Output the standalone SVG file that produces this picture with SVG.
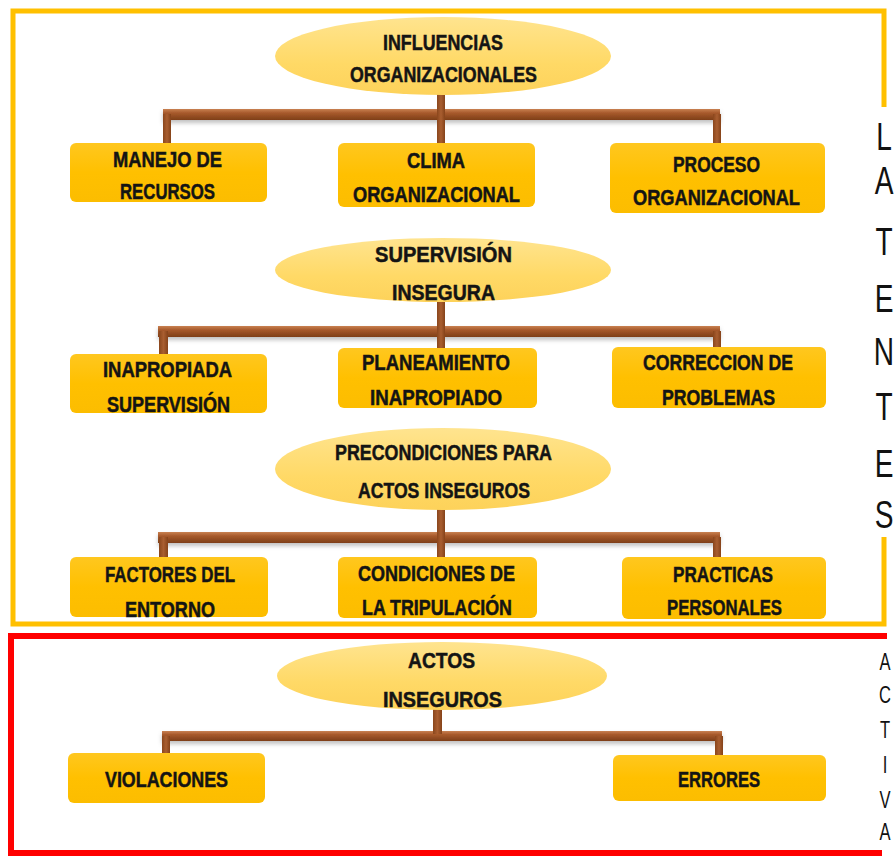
<svg xmlns="http://www.w3.org/2000/svg" width="896" height="859" viewBox="0 0 896 859">
<defs>
<style>
.lbl{font-family:"Liberation Sans",Arial,sans-serif;font-weight:bold;font-size:22px;fill:#141414;stroke:#141414;stroke-width:0.5px;text-anchor:middle}
.side{font-family:"Liberation Sans",Arial,sans-serif;font-size:39px;fill:#111;text-anchor:middle}
.side2{font-family:"Liberation Sans",Arial,sans-serif;font-size:23px;fill:#111;text-anchor:middle}
.box{fill:url(#gBox)}
.ell{fill:url(#gEll)}
.bar{fill:url(#gBar);filter:url(#sh)}
.stem{fill:url(#gStem)}
</style>
<linearGradient id="gBox" x1="0" y1="0" x2="0" y2="1">
<stop offset="0" stop-color="#FFC71F"/>
<stop offset="0.5" stop-color="#FFC000"/>
<stop offset="1" stop-color="#FCBD00"/>
</linearGradient>
<linearGradient id="gEll" x1="0" y1="0" x2="0" y2="1">
<stop offset="0" stop-color="#FFE48F"/>
<stop offset="0.6" stop-color="#FFD966"/>
<stop offset="1" stop-color="#FDD25A"/>
</linearGradient>
<linearGradient id="gBar" x1="0" y1="0" x2="0" y2="1">
<stop offset="0" stop-color="#C98152"/>
<stop offset="0.35" stop-color="#A85A2C"/>
<stop offset="1" stop-color="#7E3F18"/>
</linearGradient>
<linearGradient id="gStem" x1="0" y1="0" x2="1" y2="0">
<stop offset="0" stop-color="#8A461C"/>
<stop offset="0.5" stop-color="#A95E30"/>
<stop offset="1" stop-color="#854219"/>
</linearGradient>
<filter id="sh" x="-5%" y="-50%" width="110%" height="250%">
<feDropShadow dx="0" dy="3" stdDeviation="2" flood-color="#777" flood-opacity="0.45"/>
</filter>
</defs>
<rect width="896" height="859" fill="#fff"/>

<g id="frames" fill="none" stroke-linejoin="miter">
<path d="M884,107 L884,11 L13,11 L13,624 L884,624 L884,537" stroke="#FFC000" stroke-width="5"/>
<path d="M887,636 L11,636 L11,853 L882,853" stroke="#FF0000" stroke-width="6"/>
</g>

<g id="connectors">
<rect class="bar" x="163" y="109" width="557" height="11"/>
<rect class="stem" x="163" y="114" width="8" height="30"/>
<rect class="stem" x="713" y="114" width="8" height="30"/>
<rect class="stem" x="437" y="94" width="8" height="50"/>

<rect class="bar" x="158" y="326" width="562" height="11"/>
<rect class="stem" x="159" y="331" width="9" height="25"/>
<rect class="stem" x="713" y="331" width="8" height="17"/>
<rect class="stem" x="437" y="301" width="8" height="48"/>

<rect class="bar" x="158" y="532" width="562" height="11"/>
<rect class="stem" x="159" y="537" width="9" height="21"/>
<rect class="stem" x="713" y="537" width="8" height="21"/>
<rect class="stem" x="437" y="509" width="8" height="49"/>

<rect class="bar" x="162" y="731" width="560" height="10"/>
<rect class="stem" x="162" y="736" width="8" height="18"/>
<rect class="stem" x="715" y="736" width="8" height="20"/>
<rect class="stem" x="433" y="708" width="9" height="26"/>
</g>

<g id="n-influencias">
<ellipse class="ell" cx="443" cy="56" rx="168" ry="39"/>
<text class="lbl" x="443" y="50" textLength="120" lengthAdjust="spacingAndGlyphs">INFLUENCIAS</text>
<text class="lbl" x="443.5" y="82" textLength="187" lengthAdjust="spacingAndGlyphs">ORGANIZACIONALES</text>
</g>
<g id="n-manejo">
<rect class="box" x="70" y="143" width="197" height="59" rx="6"/>
<text class="lbl" x="167.5" y="167" textLength="109" lengthAdjust="spacingAndGlyphs">MANEJO DE</text>
<text class="lbl" x="167.5" y="199" textLength="95" lengthAdjust="spacingAndGlyphs">RECURSOS</text>
</g>
<g id="n-clima">
<rect class="box" x="338" y="143" width="197" height="64" rx="6"/>
<text class="lbl" x="436" y="168" textLength="58" lengthAdjust="spacingAndGlyphs">CLIMA</text>
<text class="lbl" x="436.5" y="202" textLength="167" lengthAdjust="spacingAndGlyphs">ORGANIZACIONAL</text>
</g>
<g id="n-proceso">
<rect class="box" x="610" y="143" width="215" height="70" rx="6"/>
<text class="lbl" x="716.5" y="172" textLength="87" lengthAdjust="spacingAndGlyphs">PROCESO</text>
<text class="lbl" x="716.5" y="205" textLength="167" lengthAdjust="spacingAndGlyphs">ORGANIZACIONAL</text>
</g>

<g id="n-supervision">
<ellipse class="ell" cx="443" cy="270" rx="168" ry="32"/>
<text class="lbl" x="443.5" y="262" textLength="137" lengthAdjust="spacingAndGlyphs">SUPERVISIÓN</text>
<text class="lbl" x="443.5" y="300" textLength="103" lengthAdjust="spacingAndGlyphs">INSEGURA</text>
</g>
<g id="n-inapropiada">
<rect class="box" x="70" y="354" width="197" height="59" rx="6"/>
<text class="lbl" x="167.5" y="377" textLength="129" lengthAdjust="spacingAndGlyphs">INAPROPIADA</text>
<text class="lbl" x="168.5" y="412" textLength="123" lengthAdjust="spacingAndGlyphs">SUPERVISIÓN</text>
</g>
<g id="n-planeamiento">
<rect class="box" x="338" y="348" width="199" height="60" rx="6"/>
<text class="lbl" x="436" y="370" textLength="148" lengthAdjust="spacingAndGlyphs">PLANEAMIENTO</text>
<text class="lbl" x="436" y="405" textLength="132" lengthAdjust="spacingAndGlyphs">INAPROPIADO</text>
</g>
<g id="n-correccion">
<rect class="box" x="612" y="347" width="214" height="61" rx="6"/>
<text class="lbl" x="718" y="370" textLength="150" lengthAdjust="spacingAndGlyphs">CORRECCION DE</text>
<text class="lbl" x="718.5" y="405" textLength="113" lengthAdjust="spacingAndGlyphs">PROBLEMAS</text>
</g>

<g id="n-precondiciones">
<ellipse class="ell" cx="443" cy="469" rx="168" ry="41"/>
<text class="lbl" x="443.5" y="460" textLength="217" lengthAdjust="spacingAndGlyphs">PRECONDICIONES PARA</text>
<text class="lbl" x="444" y="498" textLength="172" lengthAdjust="spacingAndGlyphs">ACTOS INSEGUROS</text>
</g>
<g id="n-factores">
<rect class="box" x="70" y="557" width="198" height="60" rx="6"/>
<text class="lbl" x="170" y="582" textLength="130" lengthAdjust="spacingAndGlyphs">FACTORES DEL</text>
<text class="lbl" x="170" y="617" textLength="90" lengthAdjust="spacingAndGlyphs">ENTORNO</text>
</g>
<g id="n-condiciones">
<rect class="box" x="338" y="557" width="199" height="61" rx="6"/>
<text class="lbl" x="436.5" y="581" textLength="157" lengthAdjust="spacingAndGlyphs">CONDICIONES DE</text>
<text class="lbl" x="437" y="615" textLength="150" lengthAdjust="spacingAndGlyphs">LA TRIPULACIÓN</text>
</g>
<g id="n-practicas">
<rect class="box" x="622" y="557" width="204" height="62" rx="6"/>
<text class="lbl" x="723" y="582" textLength="100" lengthAdjust="spacingAndGlyphs">PRACTICAS</text>
<text class="lbl" x="724.5" y="615" textLength="115" lengthAdjust="spacingAndGlyphs">PERSONALES</text>
</g>

<g id="n-actos">
<ellipse class="ell" cx="442" cy="676" rx="165" ry="34"/>
<text class="lbl" x="441.5" y="668" textLength="67" lengthAdjust="spacingAndGlyphs">ACTOS</text>
<text class="lbl" x="442.5" y="707" textLength="119" lengthAdjust="spacingAndGlyphs">INSEGUROS</text>
</g>
<g id="n-violaciones">
<rect class="box" x="68" y="753" width="197" height="50" rx="6"/>
<text class="lbl" x="166.5" y="787" textLength="123" lengthAdjust="spacingAndGlyphs">VIOLACIONES</text>
</g>
<g id="n-errores">
<rect class="box" x="613" y="755" width="213" height="46" rx="6"/>
<text class="lbl" x="719" y="787" textLength="82" lengthAdjust="spacingAndGlyphs">ERRORES</text>
</g>

<g id="latentes" transform="translate(884,0) scale(0.72,1)">
<text class="side" x="0" y="150">L</text>
<text class="side" x="0" y="194">A</text>
<text class="side" x="0" y="255">T</text>
<text class="side" x="0" y="312">E</text>
<text class="side" x="0" y="365">N</text>
<text class="side" x="0" y="420">T</text>
<text class="side" x="0" y="477">E</text>
<text class="side" x="0" y="528">S</text>
</g>
<g id="activa" transform="translate(885,0) scale(0.72,1)">
<text class="side2" x="0" y="670">A</text>
<text class="side2" x="0" y="703">C</text>
<text class="side2" x="0" y="738">T</text>
<text class="side2" x="0" y="773">I</text>
<text class="side2" x="0" y="808">V</text>
<text class="side2" x="0" y="840">A</text>
</g>
</svg>
